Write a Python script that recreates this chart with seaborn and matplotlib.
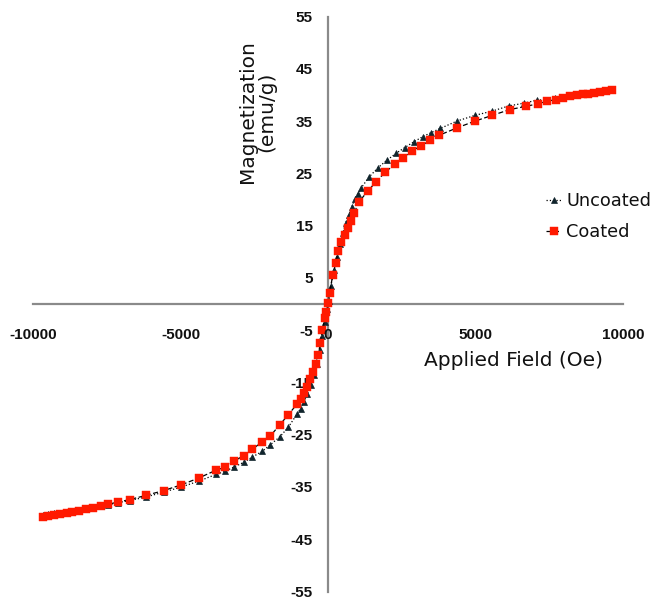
import matplotlib
matplotlib.use("Agg")
import matplotlib.pyplot as plt
import seaborn as sns
import numpy as np
import pandas as pd

# ---------------- data ----------------
field_coated = [-9656, -9486, -9282, -9088, -8864, -8670, -8432, -8217, -7956, -7707,
                -7446, -7129, -6708, -6164, -5576, -4975, -4386, -3797, -3479, -3196,
                -2856, -2573, -2233, -1950, -1632, -1349, -1043, -930, -816, -720,
                -624, -510, -420, -329, -261, -193, -102, -57, 10, 57,
                159, 261, 351, 431, 567, 680, 771, 886, 1043, 1349,
                1632, 1938, 2255, 2550, 2856, 3162, 3468, 3774, 4375, 4987,
                5576, 6165, 6698, 7117, 7435, 7718, 7979, 8217, 8432, 8636,
                8818, 9022, 9226, 9430, 9633]
mag_coated = [-40.7, -40.5, -40.3, -40.2, -40.0, -39.8, -39.6, -39.3, -39.0, -38.7,
              -38.3, -37.9, -37.4, -36.6, -35.7, -34.6, -33.3, -31.8, -31.2, -30.1,
              -29.0, -27.8, -26.4, -25.2, -23.1, -21.2, -19.1, -18.2, -17.1, -15.9,
              -14.3, -13.0, -11.4, -9.8, -7.4, -5.0, -2.6, -1.6, 0.2, 2.2,
              5.5, 7.8, 10.1, 11.8, 13.2, 14.5, 15.8, 17.4, 19.5, 21.6,
              23.4, 25.2, 26.7, 28.0, 29.3, 30.3, 31.3, 32.3, 33.7, 35.0,
              36.1, 37.2, 37.8, 38.3, 38.8, 39.1, 39.5, 39.7, 39.9, 40.1,
              40.2, 40.35, 40.5, 40.7, 40.9]

field_uncoated = [-9656, -9486, -9282, -9088, -8864, -8670, -8432, -8217, -7956, -7707,
                  -7446, -7129, -6708, -6164, -5576, -4975, -4386, -3797, -3479, -3196,
                  -2856, -2573, -2233, -1950, -1632, -1349, -1043, -930, -816, -700,
                  -590, -480, -380, -280, -190, -100, -30, 20, 100, 200,
                  300, 400, 500, 600, 700, 800, 900, 1000, 1111, 1394,
                  1700, 1995, 2301, 2595, 2901, 3207, 3502, 3808, 4375, 4987,
                  5565, 6131, 6630, 7083, 7400, 7684, 7979, 8217, 8432, 8636,
                  8818, 9022, 9226, 9430, 9633]
mag_uncoated = [-40.3, -40.1, -40.0, -39.9, -39.7, -39.6, -39.4, -39.2, -39.0, -38.7,
                -38.4, -38.0, -37.6, -36.9, -36.0, -35.0, -33.9, -32.6, -32.0, -31.2,
                -30.3, -29.3, -28.2, -26.9, -25.4, -23.6, -21.0, -20.0, -18.8, -17.2,
                -15.5, -13.6, -11.4, -8.8, -6.2, -3.5, -1.0, 0.5, 3.5, 6.5,
                9.0, 11.5, 13.5, 15.5, 17.0, 18.5, 20.0, 21.0, 22.1, 24.3,
                26.1, 27.5, 28.8, 29.9, 31.0, 32.0, 32.8, 33.6, 35.0, 36.1,
                36.9, 37.9, 38.4, 39.0, 39.1, 39.5, 39.6, 39.8, 40.0, 40.2,
                40.35, 40.5, 40.65, 40.8, 41.0]

x_ticks = [-10000, -5000, 0, 5000, 10000]
y_ticks = [-55, -45, -35, -25, -15, -5, 5, 15, 25, 35, 45, 55]

df_c = pd.DataFrame({"field": field_coated, "mag": mag_coated})
df_u = pd.DataFrame({"field": field_uncoated, "mag": mag_uncoated})

# ---------------- plot ----------------
sns.set_style("white")
plt.rcParams['font.family'] = ['DejaVu Sans']

fig = plt.figure(figsize=(6.52, 5.99), dpi=100)
ax = fig.add_axes([33/652, 1 - 591.5/599, (623 - 33)/652, (591.5 - 16.5)/599])

sns.lineplot(data=df_u, x="field", y="mag", ax=ax, estimator=None, sort=False,
             color="black", linestyle=":", linewidth=0.9,
             marker="^", markersize=5, markerfacecolor="#10242c",
             markeredgecolor="#10242c", markeredgewidth=0.5,
             label="Uncoated", zorder=3)
sns.lineplot(data=df_c, x="field", y="mag", ax=ax, estimator=None, sort=False,
             color="black", linestyle=(0, (4, 2)), linewidth=0.9,
             marker="s", markersize=5.5, markerfacecolor="#ff1a00",
             markeredgecolor="#ff1a00", markeredgewidth=0.3,
             label="Coated", zorder=4)

ax.set_xlim(-10000, 10000)
ax.set_ylim(-55, 55)

for s in ["top", "right"]:
    ax.spines[s].set_visible(False)
ax.spines["left"].set_position(("data", 0))
ax.spines["bottom"].set_position(("data", 0))
for s in ["left", "bottom"]:
    ax.spines[s].set_color("#8a8a8a")
    ax.spines[s].set_linewidth(1.6)

ax.set_xticks(x_ticks)
ax.set_yticks(y_ticks)
ax.set_xticklabels([str(v) for v in x_ticks])
ax.set_yticklabels([str(v) for v in y_ticks])
ax.tick_params(axis="both", which="major", direction="out", length=4,
               width=1.4, color="#8a8a8a", labelsize=11)
ax.tick_params(axis="x", pad=13)
ax.tick_params(axis="y", pad=7)
for lab in ax.get_xticklabels() + ax.get_yticklabels():
    lab.set_fontfamily(["Liberation Sans", "DejaVu Sans"])
    lab.set_fontweight("bold")
    lab.set_color("#111111")
ax.xaxis.set_zorder(5)

ax.set_xlabel("")
ax.set_ylabel("")
ax.text(513/652, 1 - 360/599, "Applied Field (Oe)", transform=fig.transFigure,
        ha="center", va="center", fontsize=14.5, color="#111111")
ax.text(257/652, 1 - 112/599, "Magnetization\n(emu/g)", transform=fig.transFigure,
        ha="center", va="center", rotation=90, fontsize=14.5, color="#111111",
        linespacing=1.0)

leg = ax.legend(loc="center left", bbox_to_anchor=(546/652, 1 - 216.5/599),
                bbox_transform=fig.transFigure, frameon=False, fontsize=12.8,
                handlelength=0.85, handletextpad=0.3, labelspacing=0.75,
                borderpad=0, borderaxespad=0)
for t in leg.get_texts():
    t.set_color("#111111")

ax.grid(False)
fig.savefig("out.png", dpi=100)
